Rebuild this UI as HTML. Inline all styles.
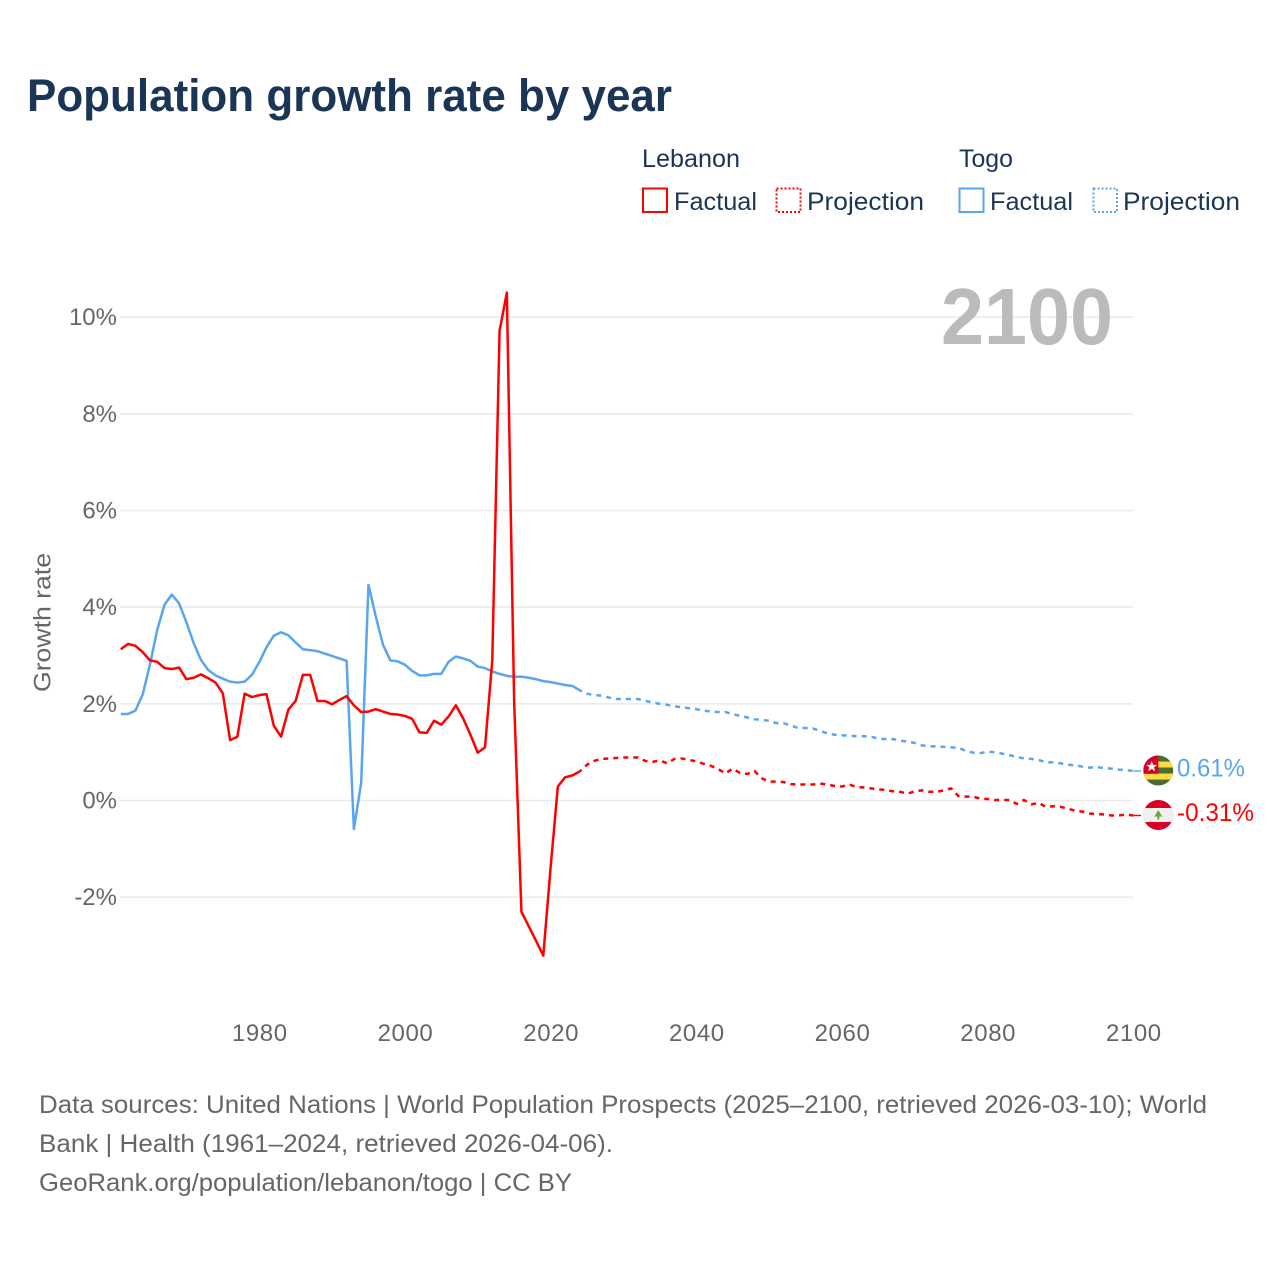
<!DOCTYPE html>
<html lang="en">
<head>
<meta charset="utf-8">
<title>Population growth rate by year</title>
<style>
html,body{margin:0;padding:0;background:#fff;}
svg{display:block;font-family:"Liberation Sans",sans-serif;}
</style>
</head>
<body>
<svg id="chart" xmlns="http://www.w3.org/2000/svg" width="1280" height="1280" viewBox="0 0 1280 1280">
  <rect x="0" y="0" width="1280" height="1280" fill="#ffffff"/>
  <text x="27" y="111" font-size="45" font-weight="700" fill="#1a3556" textLength="645" lengthAdjust="spacingAndGlyphs">Population growth rate by year</text>

  <g font-size="25" fill="#1a3556">
    <text x="642" y="167" textLength="98" lengthAdjust="spacingAndGlyphs">Lebanon</text>
    <text x="959" y="167" textLength="54" lengthAdjust="spacingAndGlyphs">Togo</text>
    <rect x="643" y="188.5" width="24" height="23.5" fill="none" stroke="#ff0000" stroke-width="2"/>
    <text x="674" y="210" textLength="83" lengthAdjust="spacingAndGlyphs">Factual</text>
    <rect x="776.5" y="188.5" width="24" height="23.5" fill="none" stroke="#ff0000" stroke-width="2" stroke-dasharray="2 2"/>
    <text x="807" y="210" textLength="117" lengthAdjust="spacingAndGlyphs">Projection</text>
    <rect x="959.5" y="188.5" width="24" height="23.5" fill="none" stroke="#5aa5f0" stroke-width="2"/>
    <text x="990" y="210" textLength="83" lengthAdjust="spacingAndGlyphs">Factual</text>
    <rect x="1093.5" y="188.5" width="23.5" height="23.5" fill="none" stroke="#5aa5f0" stroke-width="2" stroke-dasharray="2 2"/>
    <text x="1123" y="210" textLength="117" lengthAdjust="spacingAndGlyphs">Projection</text>
  </g>

  <g id="grid"></g>
  <g id="yticks" font-size="24" fill="#666666"></g>
  <g id="xticks" font-size="24" fill="#666666"></g>
  <text transform="translate(50.5,692) rotate(-90)" font-size="24" fill="#666666" textLength="139" lengthAdjust="spacingAndGlyphs">Growth rate</text>
  <text x="941" y="344" font-size="80" font-weight="700" fill="#bbbbbb" textLength="172" lengthAdjust="spacingAndGlyphs">2100</text>

  <g id="series"></g>

  <g id="flag-togo">
    <clipPath id="clip-togo"><circle cx="0" cy="0" r="15"/></clipPath>
    <g clip-path="url(#clip-togo)">
      <rect x="-15" y="-15" width="30" height="30" fill="#496e2d"/>
      <rect x="-15" y="-9" width="30" height="6" fill="#ffda44"/>
      <rect x="-15" y="3" width="30" height="6" fill="#ffda44"/>
      <rect x="-15" y="-15" width="15" height="18.3" fill="#d80027"/>
      <polygon points="-6.6,-9.5 -5.1,-5.7 -1,-5.7 -4.2,-3.2 -3.1,0.8 -6.6,-1.5 -10.1,0.8 -9,-3.2 -12.2,-5.7 -8.1,-5.7" fill="#f0f0f0"/>
    </g>
  </g>
  <g id="flag-lebanon">
    <clipPath id="clip-lebanon"><circle cx="0" cy="0" r="15"/></clipPath>
    <g clip-path="url(#clip-lebanon)">
      <rect x="-15" y="-15" width="30" height="30" fill="#d80027"/>
      <rect x="-15" y="-7" width="30" height="14" fill="#f0f0f0"/>
      <polygon points="0,-5 4,1.6 1,1.6 1,4.5 -1,4.5 -1,1.6 -4,1.6" fill="#6da544"/>
    </g>
  </g>

  <g font-size="25" fill="#666666">
    <text x="39" y="1113" textLength="1168" lengthAdjust="spacingAndGlyphs">Data sources: United Nations | World Population Prospects (2025–2100, retrieved 2026-03-10); World</text>
    <text x="39" y="1152" textLength="574" lengthAdjust="spacingAndGlyphs">Bank | Health (1961–2024, retrieved 2026-04-06).</text>
    <text x="39" y="1191" textLength="533" lengthAdjust="spacingAndGlyphs">GeoRank.org/population/lebanon/togo | CC BY</text>
  </g>
</svg>
<script>
const firstYear = 1961;
const projectionStartYear = 2024;
const yTicks = [10, 8, 6, 4, 2, 0, -2];
const xTicks = [1980, 2000, 2020, 2040, 2060, 2080, 2100];
const lebanonFactual = [
  3.13,3.24,3.20,3.07,2.90,2.87,2.74,2.72,2.75,2.51,
  2.54,2.61,2.53,2.44,2.22,1.25,1.32,2.21,2.14,2.18,
  2.20,1.55,1.32,1.88,2.06,2.60,2.60,2.06,2.06,1.99,
  2.08,2.16,1.97,1.83,1.84,1.89,1.84,1.79,1.78,1.75,
  1.69,1.41,1.40,1.65,1.57,1.74,1.97,1.70,1.36,0.99,
  1.10,2.90,9.72,10.51,2.05,-2.30,-2.60,-2.90,-3.21,-1.40,
  0.29,0.48,0.52,0.60
];
const lebanonProjection = [
  0.60,0.74,0.82,0.86,0.87,0.88,0.89,0.89,0.89,0.82,
  0.80,0.83,0.77,0.86,0.87,0.84,0.81,0.76,0.72,0.65,
  0.56,0.66,0.57,0.55,0.61,0.46,0.39,0.39,0.38,0.34,
  0.33,0.33,0.33,0.35,0.33,0.30,0.29,0.33,0.28,0.27,
  0.25,0.23,0.22,0.19,0.18,0.14,0.19,0.21,0.18,0.18,
  0.21,0.25,0.09,0.08,0.08,0.04,0.03,0.01,0.01,0.01,
  -0.07,0.01,-0.08,-0.05,-0.13,-0.12,-0.13,-0.17,-0.21,-0.23,
  -0.27,-0.28,-0.29,-0.31,-0.31,-0.29,-0.31
];
const togoFactual = [
  1.79,1.79,1.86,2.19,2.81,3.53,4.05,4.26,4.08,3.69,
  3.26,2.91,2.70,2.59,2.52,2.46,2.44,2.46,2.60,2.86,
  3.17,3.41,3.48,3.42,3.27,3.13,3.11,3.09,3.04,2.99,
  2.94,2.89,-0.59,0.36,4.46,3.81,3.22,2.90,2.88,2.81,
  2.68,2.59,2.59,2.62,2.62,2.87,2.98,2.94,2.89,2.77,
  2.74,2.67,2.62,2.58,2.56,2.56,2.54,2.51,2.47,2.45,
  2.42,2.39,2.37,2.28
];
const togoProjection = [
  2.28,2.21,2.18,2.17,2.13,2.10,2.10,2.10,2.10,2.06,
  2.03,2.00,1.98,1.95,1.93,1.91,1.89,1.86,1.84,1.83,
  1.83,1.79,1.75,1.72,1.68,1.67,1.65,1.60,1.60,1.55,
  1.50,1.50,1.49,1.44,1.39,1.36,1.35,1.34,1.33,1.33,
  1.32,1.28,1.27,1.27,1.24,1.22,1.19,1.14,1.12,1.12,
  1.11,1.10,1.09,1.03,0.99,0.98,1.01,1.00,0.97,0.94,
  0.90,0.87,0.86,0.84,0.79,0.79,0.77,0.74,0.73,0.70,
  0.68,0.69,0.67,0.66,0.64,0.63,0.61
];

const NS = 'http://www.w3.org/2000/svg';
const RED = '#ff0000';
const BLUE = '#5aa5f0';
function xScale(year) { return 120.8 + (year - firstYear) * 7.284; }
function yScale(value) { return 800.5 - value * 48.33; }
function pointsFor(values, startYear) {
  return values.map(function (v, i) {
    return xScale(startYear + i).toFixed(2) + ',' + yScale(v).toFixed(2);
  }).join(' ');
}

const grid = document.getElementById('grid');
const yTickGroup = document.getElementById('yticks');
yTicks.forEach(function (t) {
  const line = document.createElementNS(NS, 'line');
  
  
  line.setAttribute('x1', 120);
  line.setAttribute('x2', 1133);
  line.setAttribute('y1', yScale(t));
  line.setAttribute('y2', yScale(t));
  line.setAttribute('stroke', '#ebebeb');
  line.setAttribute('stroke-width', 1.6);
  grid.appendChild(line);
  const label = document.createElementNS(NS, 'text');
  
  
  label.setAttribute('x', 117);
  label.setAttribute('y', yScale(t) + 8);
  label.setAttribute('text-anchor', 'end');
  label.textContent = t + '%';
  yTickGroup.appendChild(label);
});

const xTickGroup = document.getElementById('xticks');
xTicks.forEach(function (t) {
  const label = document.createElementNS(NS, 'text');
  
  
  label.setAttribute('x', xScale(t) + 0.6);
  label.setAttribute('y', 1041);
  label.setAttribute('text-anchor', 'middle');
  label.setAttribute('letter-spacing', '0.6');
  label.textContent = t;
  xTickGroup.appendChild(label);
});

const seriesGroup = document.getElementById('series');
function drawLine(name, values, startYear, color, dashed) {
  const line = document.createElementNS(NS, 'polyline');
  
  
  line.setAttribute('points', pointsFor(values, startYear));
  line.setAttribute('fill', 'none');
  line.setAttribute('stroke', color);
  line.setAttribute('stroke-width', 2.5);
  line.setAttribute('stroke-linejoin', 'round');
  if (dashed) {
    line.setAttribute('stroke-dasharray', '5 5');
    line.setAttribute('stroke-dashoffset', '2.5');
  }
  seriesGroup.appendChild(line);
}
drawLine('lebanon-projection-line', lebanonProjection, projectionStartYear, RED, true);
drawLine('togo-projection-line', togoProjection, projectionStartYear, BLUE, true);
drawLine('togo-factual-line', togoFactual, firstYear, BLUE, false);
drawLine('lebanon-factual-line', lebanonFactual, firstYear, RED, false);

function drawEnd(prefix, flagId, values, color, labelWidth) {
  const last = values[values.length - 1];
  const y = yScale(last);
  const leader = document.createElementNS(NS, 'line');
  
  
  leader.setAttribute('x1', xScale(2100));
  leader.setAttribute('x2', 1141);
  leader.setAttribute('y1', y);
  leader.setAttribute('y2', y);
  leader.setAttribute('stroke', color);
  leader.setAttribute('stroke-width', 1.4);
  seriesGroup.appendChild(leader);
  document.getElementById(flagId).setAttribute('transform', 'translate(1158.3,' + (y - 0.5) + ')');
  const label = document.createElementNS(NS, 'text');
  
  
  label.setAttribute('x', 1177);
  label.setAttribute('y', y + 5.5);
  label.setAttribute('font-size', 25);
  label.setAttribute('fill', color);
  label.setAttribute('textLength', labelWidth);
  label.setAttribute('lengthAdjust', 'spacingAndGlyphs');
  label.textContent = last.toFixed(2) + '%';
  seriesGroup.appendChild(label);
}
drawEnd('togo', 'flag-togo', togoProjection, BLUE, 68);
drawEnd('lebanon', 'flag-lebanon', lebanonProjection, RED, 77);
</script>
</body>
</html>
